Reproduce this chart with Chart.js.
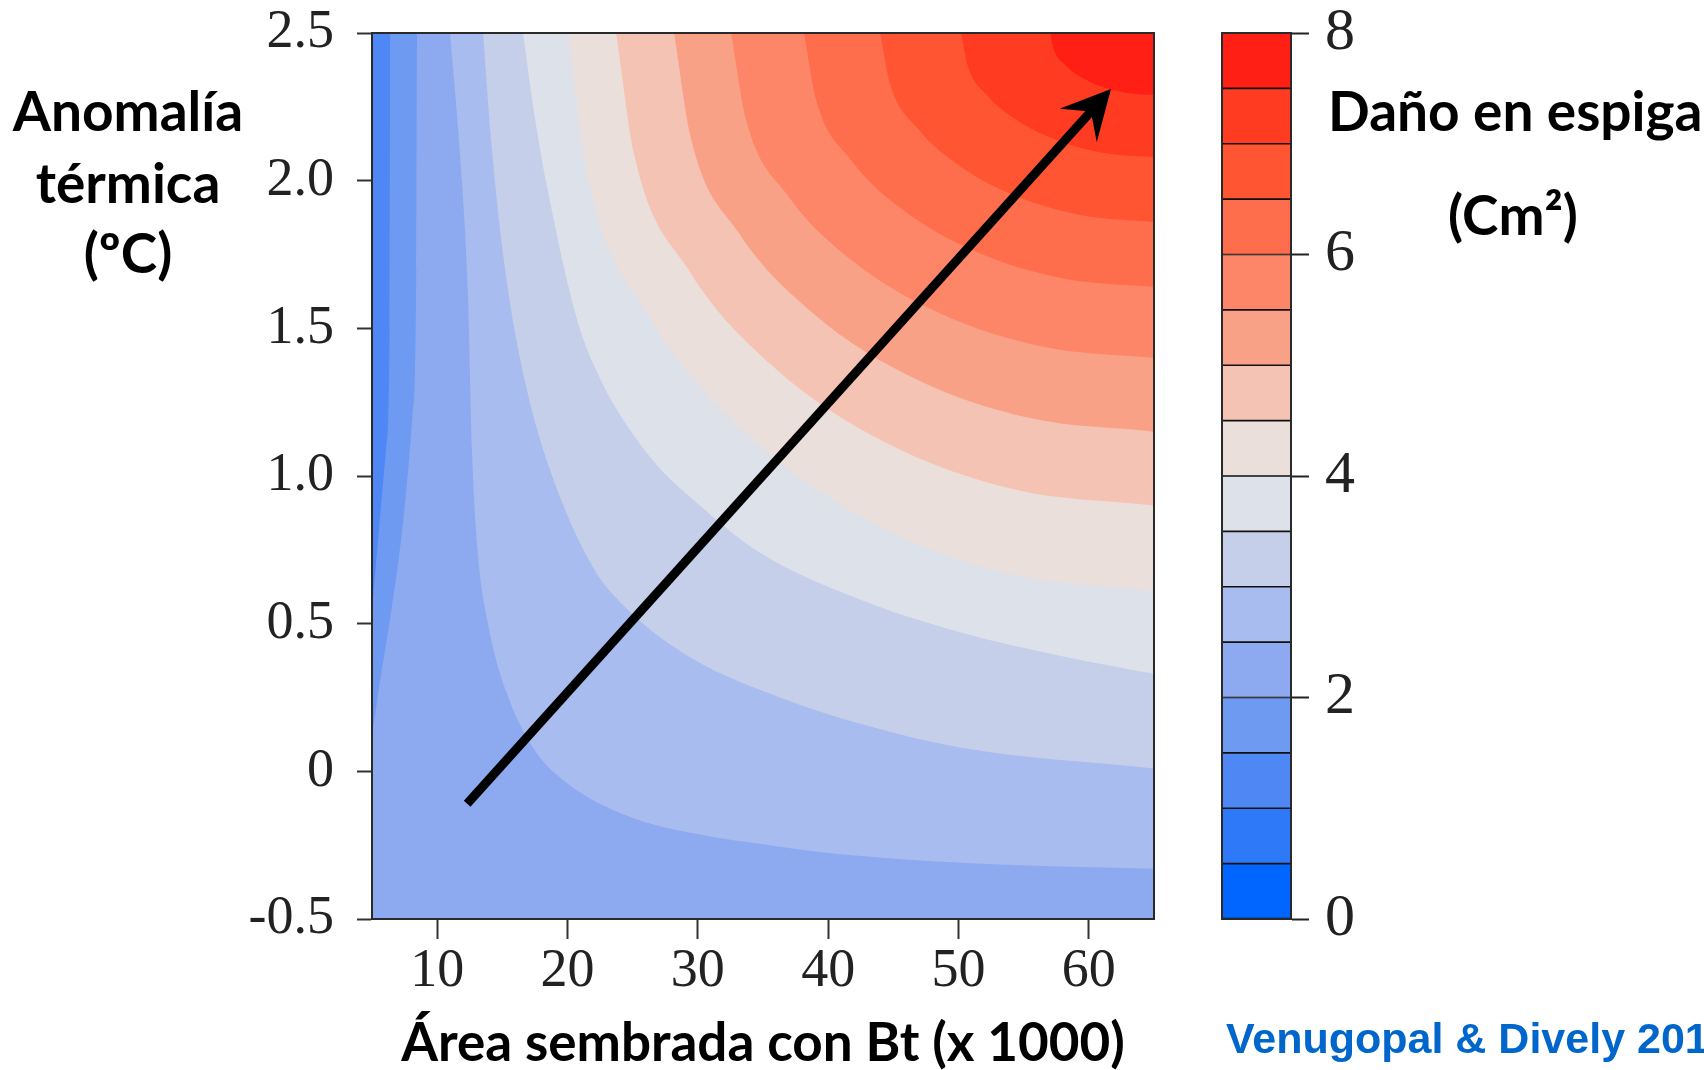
<!DOCTYPE html>
<html>
<head>
<meta charset="utf-8">
<script src="https://cdn.jsdelivr.net/npm/chart.js@4.4.1/dist/chart.umd.min.js"></script>
<style>
  html, body { margin: 0; padding: 0; background: #fff; }
  #wrap { position: relative; width: 1704px; height: 1070px; overflow: hidden; }
  .box { position: absolute; top: 0; height: 1070px; }
</style>
</head>
<body>
<div id="wrap">
  <div class="box" style="left:0;width:1200px"><canvas id="main"></canvas></div>
  <div class="box" style="left:1200px;width:504px"><canvas id="bar"></canvas></div>
</div>
<script>
// axes
const xTicks = [10, 20, 30, 40, 50, 60];
const yTicks = [-0.5, 0, 0.5, 1.0, 1.5, 2.0, 2.5];
const yTickLabels = ['-0.5', '0', '0.5', '1.0', '1.5', '2.0', '2.5'];
const xRange = [5, 65];
const yRange = [-0.5, 2.5];

// colour bar: lower bound of each 0.5 band and its colour
const bandLevels = [0, 0.5, 1, 1.5, 2, 2.5, 3, 3.5, 4, 4.5, 5, 5.5, 6, 6.5, 7, 7.5];
const bandColors = ['#0066ff', '#2d79f8', '#4f87f5', '#6f9af2', '#8daaf0', '#a9bcef',
                    '#c5cfea', '#dde1ea', '#eadfdb', '#f5c3b3', '#f9a187', '#fc8667',
                    '#fe6d4c', '#ff5533', '#ff3b22', '#ff1f14'];
const barMax = 8;
const barTicks = [0, 2, 4, 6, 8];

// contour lines as [x, y]
// left strip (value drops below the level to the left of the line)
const left20 = [[5, 0.12], [5.6, 0.3], [6.5, 0.55], [7.4, 0.85], [8.1, 1.2], [8.4, 1.7], [8.45, 2.5]];
const left15 = [[5, 0.55], [5.5, 0.8], [6.1, 1.1], [6.35, 1.5], [6.4, 2.5]];
// main field (value rises above the level up and right of the line)
const c25 = [[10.99, 2.5], [11.75, 2.09], [12.37, 1.6], [12.67, 1.09], [13.1, 0.75], [13.9, 0.5],
             [15.3, 0.27], [17.36, 0.08], [19.97, -0.04], [24.57, -0.15], [29.64, -0.21],
             [36.31, -0.255], [40.76, -0.28], [50.51, -0.31], [65, -0.33]];
const c30 = [[13.52, 2.5], [14.21, 2.1], [15.21, 1.7], [16.74, 1.32], [18.66, 1.02], [21.96, 0.69],
             [24.57, 0.55], [29.64, 0.38], [36.31, 0.25], [42.53, 0.16], [50.2, 0.08], [65, 0.01]];
const c35 = [[16.59, 2.5], [17.51, 2.21], [18.43, 1.98], [20.73, 1.53], [22.5, 1.33], [24.57, 1.17],
             [27, 1.03], [29.64, 0.92], [34.78, 0.74], [42.53, 0.58], [50.2, 0.47], [57.95, 0.39], [65, 0.33]];
const c40 = [[20.04, 2.5], [21.57, 2.01], [26.06, 1.555], [33.21, 1.164], [42.52, 0.863], [53.36, 0.674], [65, 0.61]];
const c45 = [[23.73, 2.5], [25.13, 2.086], [29.26, 1.7], [35.82, 1.369], [44.36, 1.114], [54.31, 0.954], [65, 0.9]];
const c50 = [[28.18, 2.5], [29.43, 2.15], [33.11, 1.825], [38.97, 1.546], [46.59, 1.331], [55.46, 1.196], [65, 1.15]];
const c55 = [[32.55, 2.5], [33.65, 2.215], [36.9, 1.95], [42.06, 1.722], [48.77, 1.547], [56.6, 1.437], [65, 1.4]];
const c60 = [[38.15, 2.5], [39.06, 2.277], [41.75, 2.07], [46.02, 1.892], [51.57, 1.755], [58.05, 1.669], [65, 1.64]];
const c65 = [[43.99, 2.5], [44.7, 2.334], [46.81, 2.18], [50.15, 2.048], [54.5, 1.946], [59.56, 1.882], [65, 1.86]];
const c70 = [[50.2, 2.5], [50.7, 2.391], [52.18, 2.29], [54.54, 2.203], [57.6, 2.136], [61.17, 2.094], [65, 2.08]];
const c75 = [[57.03, 2.5], [57.3, 2.446], [58.1, 2.395], [59.36, 2.352], [61.01, 2.318], [62.94, 2.297], [65, 2.29]];

const leftLevels = [2.0, 1.5];
const leftCurves = [left20, left15];
const upperLevels = [2.5, 3.0, 3.5, 4.0, 4.5, 5.0, 5.5, 6.0, 6.5, 7.0, 7.5];
const upperCurves = [c25, c30, c35, c40, c45, c50, c55, c60, c65, c70, c75];
const baseLevel = 2.0;

// arrow
const arrowFrom = [12.3, -0.11];
const arrowTo = [61.7, 2.31];

function bandColor(level) {
    return bandColors[bandLevels.indexOf(level)];
}

function curveSet(pts, color) {
    return {
        data: pts.map(p => ({ x: p[0], y: p[1] })),
        showLine: true,
        fill: 'end',
        backgroundColor: color,
        borderColor: 'rgba(0,0,0,0)',
        borderWidth: 1,
        pointRadius: 0,
        cubicInterpolationMode: 'monotone'
    };
}

// paint order bottom -> top; chart.js paints the last dataset first
const painted = [];
leftLevels.forEach((lv, i) => painted.push(curveSet(leftCurves[i], bandColor(lv - 0.5))));
upperLevels.forEach((lv, i) => painted.push(curveSet(upperCurves[i], bandColor(lv))));
const sets = painted.reverse();

const frame = {
    id: 'frame',
    beforeDatasetsDraw(chart) {
        const a = chart.chartArea, ctx = chart.ctx;
        if (chart.canvas.id === 'main') {
            ctx.save();
            ctx.fillStyle = bandColor(baseLevel);
            ctx.fillRect(a.left, a.top, a.right - a.left, a.bottom - a.top);
            ctx.restore();
        }
    },
    afterDatasetsDraw(chart) {
        const a = chart.chartArea, ctx = chart.ctx;
        ctx.save();
        ctx.strokeStyle = '#2a2a2a';
        ctx.lineWidth = 2;
        ctx.strokeRect(a.left, a.top, a.right - a.left, a.bottom - a.top);
        ctx.restore();
    }
};

const arrow = {
    id: 'arrow',
    afterDatasetsDraw(chart) {
        const xs = chart.scales.x, ys = chart.scales.y, ctx = chart.ctx;
        const x0 = xs.getPixelForValue(arrowFrom[0]), y0 = ys.getPixelForValue(arrowFrom[1]);
        const x1 = xs.getPixelForValue(arrowTo[0]), y1 = ys.getPixelForValue(arrowTo[1]);
        const len = Math.hypot(x1 - x0, y1 - y0);
        const ux = (x1 - x0) / len, uy = (y1 - y0) / len;
        const nx = -uy, ny = ux;
        ctx.save();
        ctx.strokeStyle = '#000';
        ctx.fillStyle = '#000';
        ctx.lineWidth = 9;
        ctx.lineCap = 'butt';
        ctx.beginPath();
        ctx.moveTo(x0, y0);
        ctx.lineTo(x1 - 30 * ux, y1 - 30 * uy);
        ctx.stroke();
        ctx.beginPath();
        ctx.moveTo(x1, y1);
        ctx.lineTo(x1 - 49 * ux + 25 * nx, y1 - 49 * uy + 25 * ny);
        ctx.lineTo(x1 - 30 * ux, y1 - 30 * uy);
        ctx.lineTo(x1 - 49 * ux - 25 * nx, y1 - 49 * uy - 25 * ny);
        ctx.closePath();
        ctx.fill();
        ctx.restore();
    }
};

function textPlugin(items) {
    return {
        id: 'texts',
        afterDraw(chart) {
            const ctx = chart.ctx;
            ctx.save();
            ctx.textBaseline = 'middle';
            items.forEach(t => {
                ctx.font = t.font;
                ctx.fillStyle = t.color || '#000';
                ctx.textAlign = t.align || 'center';
                ctx.fillText(t.text, t.x, t.y);
            });
            ctx.restore();
        }
    };
}

// drop the label overhang padding so the plot top sits where it should
function noOverhang(s) {
    s.paddingTop = 0;
    s.paddingBottom = 0;
    s.paddingLeft = 0;
    s.paddingRight = 0;
}

const labelFont = 'bold 55px Lato';
const tickFont = 'Liberation Serif';

new Chart(document.getElementById('main').getContext('2d'), {
    type: 'scatter',
    data: { datasets: sets },
    options: {
        responsive: true,
        maintainAspectRatio: false,
        animation: false,
        events: [],
        layout: { padding: { left: 0, top: 33, right: 46, bottom: 0 } },
        plugins: { legend: { display: false }, tooltip: { enabled: false } },
        scales: {
            x: {
                type: 'linear',
                min: xRange[0],
                max: xRange[1],
                afterBuildTicks: s => { s.ticks = xTicks.map(v => ({ value: v })); },
                afterFit: s => { s.height = 151; noOverhang(s); },
                grid: { drawOnChartArea: false, tickLength: 20, tickWidth: 2, tickColor: '#333' },
                border: { display: true, color: '#333', width: 2 },
                ticks: { font: { family: tickFont, size: 54 }, color: '#222', padding: 0, maxRotation: 0, autoSkip: false },
                title: {
                    display: true,
                    text: 'Área sembrada con Bt (x 1000)',
                    font: { family: 'Lato', weight: 'bold', size: 53 },
                    color: '#000',
                    padding: { top: 0, bottom: -6 }
                }
            },
            y: {
                type: 'linear',
                min: yRange[0],
                max: yRange[1],
                afterBuildTicks: s => { s.ticks = yTicks.map(v => ({ value: v })); },
                afterFit: s => { s.width = 372; noOverhang(s); },
                grid: { drawOnChartArea: false, tickLength: 15, tickWidth: 2, tickColor: '#333' },
                border: { display: true, color: '#333', width: 2 },
                ticks: {
                    font: { family: tickFont, size: 54 },
                    color: '#222',
                    padding: 23,
                    autoSkip: false,
                    callback: (v, i) => yTickLabels[i]
                }
            }
        }
    },
    plugins: [frame, arrow, textPlugin([
        { text: 'Anomalía', x: 128, y: 113, font: labelFont },
        { text: 'térmica', x: 128, y: 185, font: labelFont },
        { text: '(ºC)', x: 128, y: 255, font: labelFont }
    ])]
});

new Chart(document.getElementById('bar').getContext('2d'), {
    type: 'bar',
    data: {
        labels: [''],
        datasets: bandLevels.map((lv, i) => ({
            data: [(i + 1 < bandLevels.length ? bandLevels[i + 1] : barMax) - lv],
            backgroundColor: bandColors[i],
            borderColor: '#111',
            borderWidth: 1.2,
            borderSkipped: false,
            barPercentage: 1,
            categoryPercentage: 1
        }))
    },
    options: {
        responsive: true,
        maintainAspectRatio: false,
        animation: false,
        events: [],
        layout: { padding: { left: 22, top: 33, right: 0, bottom: 151 } },
        plugins: { legend: { display: false }, tooltip: { enabled: false } },
        scales: {
            x: { display: false, stacked: true },
            y: {
                stacked: true,
                position: 'right',
                min: 0,
                max: barMax,
                afterBuildTicks: s => { s.ticks = barTicks.map(v => ({ value: v })); },
                afterFit: s => { s.width = 413; noOverhang(s); },
                grid: { drawOnChartArea: false, tickLength: 18, tickWidth: 2, tickColor: '#222' },
                border: { display: true, color: '#222', width: 2 },
                ticks: { font: { family: tickFont, size: 60 }, color: '#222', padding: 16 }
            }
        }
    },
    plugins: [frame, textPlugin([
        { text: 'Daño en espiga', x: 128, y: 113, font: labelFont, align: 'left' },
        { text: '(Cm²)', x: 313, y: 217, font: labelFont },
        { text: 'Venugopal & Dively 2017', x: 26, y: 1041, font: 'bold 43px "Liberation Sans"', color: '#0066cc', align: 'left' }
    ])]
});
</script>
</body>
</html>
